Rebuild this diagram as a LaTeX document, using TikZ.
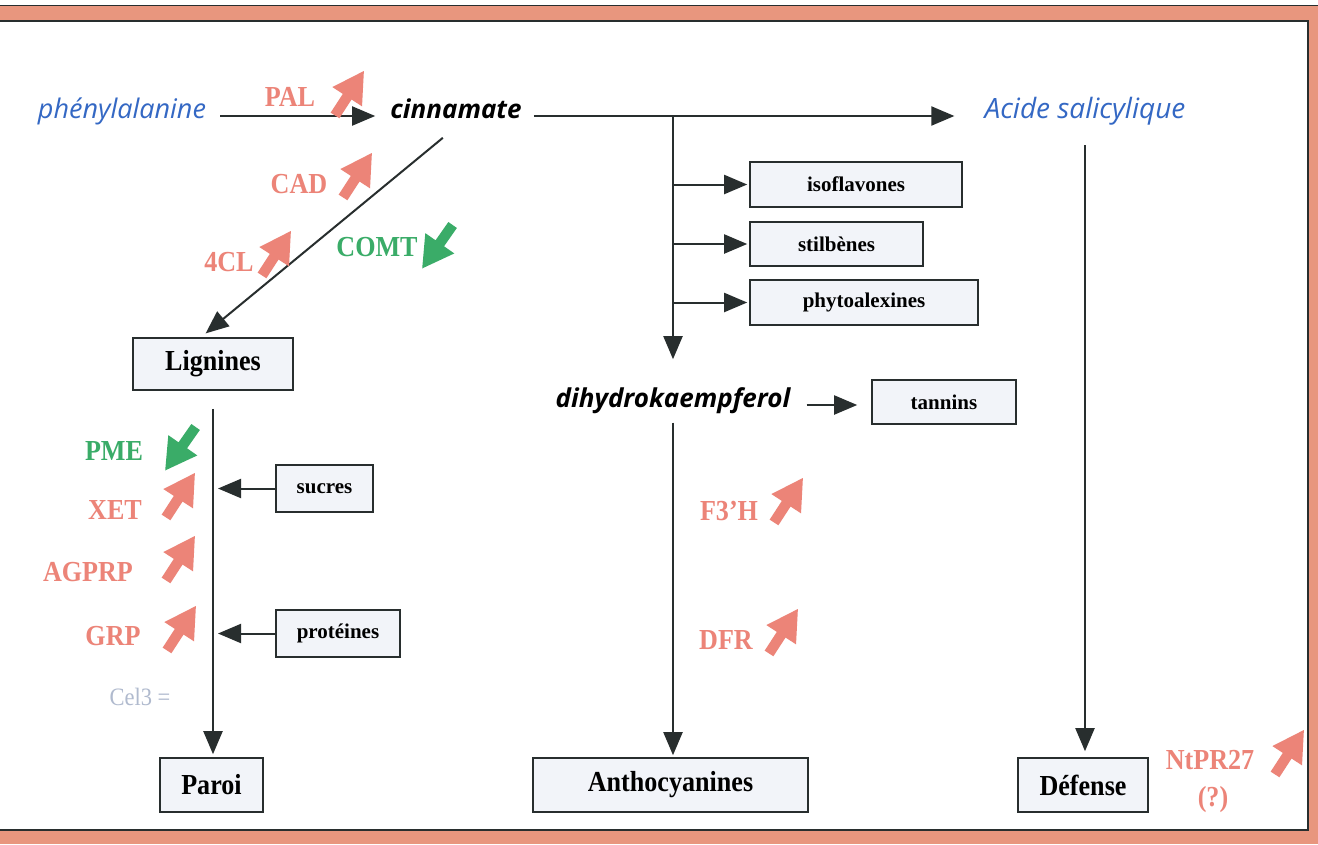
\documentclass[tikz,border=0pt]{standalone}
\usepackage{fontspec}
\setmainfont{Liberation Serif}
\newfontfamily\condserif[FakeStretch=0.9]{Liberation Serif}
\newfontfamily\itsans{Open Sans}
\usetikzlibrary{arrows.meta,shapes.arrows}
\definecolor{salmon}{RGB}{236,132,120}
\definecolor{frameband}{RGB}{232,150,126}
\definecolor{gr}{RGB}{58,172,104}
\definecolor{bl}{RGB}{52,104,196}
\definecolor{celc}{RGB}{176,186,206}
\definecolor{dk}{RGB}{40,46,46}
\definecolor{boxfill}{RGB}{242,244,249}
\begin{document}
\begin{tikzpicture}[x=1pt,y=-1pt,
 conn/.style={draw=dk, line width=2pt, -{Triangle[length=23pt,width=19pt]}},
 bigbox/.style={draw=dk, line width=1.6pt, fill=boxfill, font=\condserif\fontsize{29}{32}\selectfont\bfseries, inner sep=0pt},
 smallbox/.style={draw=dk, line width=1.6pt, fill=boxfill, font=\fontsize{21}{24}\selectfont\bfseries, inner sep=0pt},
 metab/.style={font=\itsans\itshape\fontsize{27}{30}\selectfont, inner sep=0pt, anchor=mid},
 metabk/.style={font=\itsans\itshape\bfseries\fontsize{26}{30}\selectfont, inner sep=0pt, anchor=mid},
 enz/.style={font=\condserif\fontsize{29}{32}\selectfont\bfseries, inner sep=0pt},
 regic/.style={single arrow, draw=none, minimum height=53pt,
   inner xsep=0pt, inner ysep=5pt, single arrow head extend=12.5pt, single arrow tip angle=60},
 upic/.style={regic, fill=salmon, rotate=57},
 downic/.style={regic, fill=gr, rotate=235}
]
\useasboundingbox (0,0) rectangle (1318,844);
\fill[white] (0,0) rectangle (1318,844);
\fill[frameband] (0,5) rectangle (1318,844);
\fill[white] (0,21) rectangle (1308,830);
\draw[dk, line width=1.2pt] (-3,21) rectangle (1308,830);
\draw[dk, line width=0.8pt] (0,5) -- (1318,5);

% metabolites
\node[metab, text=bl] (phe) at (122,116) {phénylalanine};
\node[metabk] (cin) at (456,116) {cinnamate};
\node[metab, text=bl, font=\itsans\itshape\fontsize{28}{30}\selectfont] (acide) at (1085,116) {Acide salicylique};
\node[metabk] (dih) at (673,405) {dihydrokaempferol};

% boxes
\node[bigbox, minimum width=160pt, minimum height=52pt] (lig) at (213,364) {Lignines};
\node[bigbox, minimum width=103pt, minimum height=54pt] (par) at (211.5,785) {Paroi};
\node[bigbox, minimum width=275pt, minimum height=54pt] (ant) at (670.5,785) {Anthocyanines};
\node[bigbox, minimum width=130pt, minimum height=54pt] (def) at (1083,785) {Défense};
\node[smallbox, minimum width=212pt, minimum height=45pt] (iso) at (856,184.5) {isoflavones};
\node[smallbox, minimum width=173pt, minimum height=44pt] (sti) at (836.5,244) {stilbènes};
\node[smallbox, minimum width=228pt, minimum height=45pt] (phy) at (864,302.5) {phytoalexines};
\node[smallbox, minimum width=144pt, minimum height=44pt] (tan) at (944,402) {tannins};
\node[smallbox, minimum width=97pt, minimum height=47pt] (suc) at (324.5,488.5) {sucres};
\node[smallbox, minimum width=124pt, minimum height=47pt] (pro) at (338,633.5) {protéines};

% connectors
\coordinate (br) at (dih.mid |- cin.mid);
\draw[conn, shorten <=14pt, shorten >=15pt] (phe.mid east) -- (phe.mid east -| cin.mid west);
\draw[conn, shorten <=12pt, shorten >=30pt] (cin.mid east) -- (cin.mid east -| acide.mid west);
\draw[conn, shorten >=28pt] (br) -- (dih.north);
\draw[conn, shorten >=2pt] (br |- iso.west) -- (iso.west);
\draw[conn, shorten >=2pt] (br |- sti.west) -- (sti.west);
\draw[conn, shorten >=2pt] (br |- phy.west) -- (phy.west);
\draw[conn, shorten <=16pt, shorten >=14pt] (dih.mid east) -- (dih.mid east -| tan.west);
\draw[conn, shorten <=9pt, shorten >=2pt] (dih.south) -- (dih.south |- ant.north);
\draw[conn, shorten <=20pt, shorten >=6pt] (acide.south) -- (acide.south |- def.north);
\draw[conn, shorten <=30pt, shorten >=6pt] ([xshift=10pt]cin.south) -- ([xshift=-12pt]lig.north);
\draw[conn, shorten <=18pt, shorten >=3pt] (lig.south) -- (lig.south |- par.north);
\draw[conn, shorten >=5pt] (suc.west) -- (suc.west -| lig.south);
\draw[conn, shorten >=5pt] (pro.west) -- (pro.west -| lig.south);

% enzyme labels
\node[enz, text=salmon] (tPAL) at (290,97) {PAL};
\node[enz, text=salmon] (tCAD) at (299,184) {CAD};
\node[enz, text=salmon] (t4CL) at (229,262) {4CL};
\node[enz, text=gr] (tCOMT) at (377,247) {COMT};
\node[enz, text=gr] (tPME) at (114,451) {PME};
\node[enz, text=salmon] (tXET) at (115,510) {XET};
\node[enz, text=salmon] (tAGPRP) at (88,572) {AGPRP};
\node[enz, text=salmon] (tGRP) at (113,636) {GRP};
\node[font=\condserif\fontsize{25}{27}\selectfont, text=celc, inner sep=0pt] (tCel) at (140,697) {Cel3 =};
\node[enz, text=salmon] (tF3H) at (729,511) {F3’H};
\node[enz, text=salmon] (tDFR) at (726,640) {DFR};
\node[enz, text=salmon] (tNt) at (1210,760) {NtPR27};
\node[enz, text=salmon] (tQ) at (1213,800) {(?)};

% regulation arrows
\node[upic] (aPAL) at (347,97) {};
\node[upic] (aCAD) at (355,179) {};
\node[upic] (a4CL) at (274,257) {};
\node[downic] (aCOMT) at (440,243) {};
\node[downic] (aPME) at (183,445) {};
\node[upic] (aXET) at (178,499) {};
\node[upic] (aAGPRP) at (178,562) {};
\node[upic] (aGRP) at (179,632) {};
\node[upic] (aF3H) at (786,504) {};
\node[upic] (aDFR) at (781,635) {};
\node[upic] (aNt) at (1287,756) {};
\end{tikzpicture}
\end{document}
